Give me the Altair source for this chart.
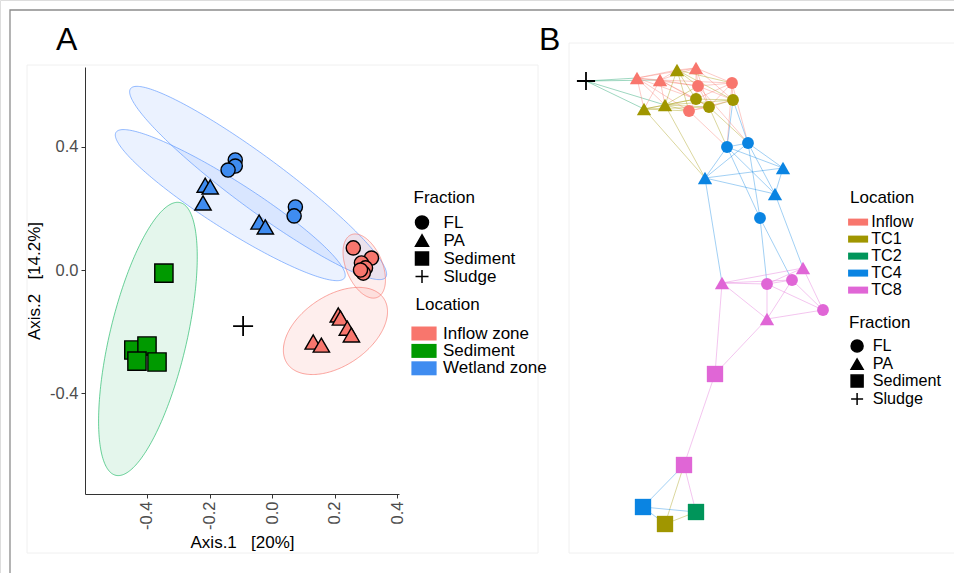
import altair as alt
import numpy as np
import pandas as pd

FONT = "Liberation Sans"

# ---------------- Panel A : PCoA ordination ----------------
a_loc = (["Wetland zone"] * 10 + ["Inflow zone"] * 12 + ["Sediment"] * 5)
a_frac = (["FL"] * 5 + ["PA"] * 5 + ["FL"] * 6 + ["PA"] * 6 + ["Sediment"] * 5)
a_x = [-0.118, -0.118, -0.141, 0.074, 0.070,
       -0.214, -0.198, -0.221, -0.042, -0.022,
       0.259, 0.317, 0.285, 0.298, 0.291, 0.282,
       0.211, 0.218, 0.240, 0.253, 0.131, 0.157,
       -0.346, -0.442, -0.400, -0.432, -0.368]
a_y = [0.358, 0.338, 0.325, 0.205, 0.176,
       0.276, 0.270, 0.218, 0.156, 0.140,
       0.072, 0.039, 0.023, 0.007, -0.010, 0.000,
       -0.146, -0.156, -0.189, -0.211, -0.234, -0.244,
       -0.010, -0.260, -0.247, -0.296, -0.299]
sludge_x = [-0.093]
sludge_y = [-0.182]

# confidence ellipses (centre, semi-axes, rotation in degrees)
ell_id = ["W-FL", "W-PA", "I-FL", "I-PA", "S"]
ell_loc = ["Wetland zone", "Wetland zone", "Inflow zone", "Inflow zone", "Sediment"]
ell_cx = [-0.045, -0.134, 0.294, 0.202, -0.397]
ell_cy = [0.283, 0.211, 0.013, -0.198, -0.224]
ell_a = [0.51, 0.435, 0.11, 0.187, 0.455]
ell_b = [0.084, 0.077, 0.058, 0.113, 0.123]
ell_ang = [-37, -33, -68, 35, 77]

A_LOCS = ["Inflow zone", "Sediment", "Wetland zone"]
A_FILL = ["#F8766D", "#009A00", "#3F8CF0"]
A_ELL = ["#F8766D", "#1DB866", "#5C97FF"]
FRACS = ["FL", "PA", "Sediment", "Sludge"]
PLUS = "M-1,0H1M0,-1V1"
SHAPES = ["circle", "triangle-up", "square", PLUS]

# ---------------- Panel B : network ----------------
n_id = ["SL", "I1", "I2", "I3", "T1a", "T1b", "T1c", "I4", "I5", "I6", "T1d", "T1e", "T1f",
        "C4a", "C4b", "C4c", "C4d", "C4e", "C4f",
        "P1", "P2", "P3", "P4", "P5", "P6", "P7", "P8",
        "C4g", "T1g", "G1"]
n_loc = ["TC2", "Inflow", "Inflow", "Inflow", "TC1", "TC1", "TC1", "Inflow", "Inflow", "Inflow", "TC1", "TC1", "TC1",
         "TC4", "TC4", "TC4", "TC4", "TC4", "TC4",
         "TC8", "TC8", "TC8", "TC8", "TC8", "TC8", "TC8", "TC8",
         "TC4", "TC1", "TC2"]
n_frac = ["Sludge", "PA", "PA", "PA", "PA", "PA", "PA", "FL", "FL", "FL", "FL", "FL", "FL",
          "FL", "FL", "FL", "PA", "PA", "PA",
          "PA", "PA", "PA", "FL", "FL", "FL", "Sediment", "Sediment",
          "Sediment", "Sediment", "Sediment"]
n_x = [0, 51, 74, 110, 91, 58, 79, 112, 146, 103, 110, 123, 147,
       141, 162, 174, 119, 197, 189,
       136, 217, 181, 181, 206, 237, 129, 98,
       57, 79, 110]
n_y = [445, 448, 446, 458, 456, 417, 421, 440, 443, 415, 427, 419, 426,
       379, 383, 308, 348, 358, 332,
       243, 258, 207, 242, 246, 216, 152, 61,
       19, 2, 14]

edges = [
    ("SL", "I1"), ("SL", "I2"), ("SL", "T1b"), ("SL", "T1c"),
    ("I1", "I2"), ("I1", "T1a"), ("I1", "I3"), ("I1", "I4"), ("I1", "T1b"), ("I1", "T1c"), ("I1", "T1d"), ("I1", "I6"),
    ("I2", "T1a"), ("I2", "I3"), ("I2", "I4"), ("I2", "T1c"), ("I2", "T1d"), ("I2", "T1e"), ("I2", "I5"), ("I2", "T1b"),
    ("I3", "T1a"), ("I3", "I4"), ("I3", "I5"), ("I3", "T1d"), ("I3", "T1f"), ("I3", "T1e"),
    ("T1a", "I4"), ("T1a", "I5"), ("T1a", "T1d"), ("T1a", "T1c"), ("T1a", "T1f"), ("T1a", "I6"),
    ("T1b", "T1c"), ("T1b", "T1d"), ("T1b", "I6"), ("T1b", "T1e"),
    ("T1c", "T1d"), ("T1c", "I6"), ("T1c", "T1e"), ("T1c", "I4"), ("T1c", "T1f"),
    ("I4", "I5"), ("I4", "T1d"), ("I4", "T1e"), ("I4", "T1f"),
    ("I5", "T1f"), ("I5", "T1d"), ("I5", "T1e"),
    ("I6", "T1d"), ("I6", "T1e"), ("I6", "T1f"),
    ("T1d", "T1e"), ("T1d", "T1f"), ("T1e", "T1f"),
    ("I5", "C4a"), ("I5", "C4b"), ("C4a", "T1f"), ("C4b", "T1f"), ("I6", "C4a"),
    ("T1e", "C4a"), ("T1e", "C4b"), ("I4", "C4b"), ("T1b", "C4d"), ("T1c", "C4d"),
    ("C4a", "C4b"), ("C4a", "C4d"), ("C4b", "C4d"), ("C4a", "C4e"), ("C4b", "C4e"), ("C4a", "C4f"),
    ("C4b", "C4f"), ("C4d", "C4e"), ("C4d", "C4f"), ("C4e", "C4f"), ("C4a", "C4c"), ("C4b", "C4c"),
    ("C4d", "P1"), ("C4c", "P4"), ("C4c", "P5"), ("C4f", "P2"),
    ("P1", "P4"), ("P1", "P5"), ("P1", "P2"), ("P1", "P3"), ("P1", "P7"), ("P4", "P3"), ("P4", "P6"),
    ("P4", "P5"), ("P5", "P3"), ("P5", "P6"), ("P2", "P6"), ("P3", "P6"), ("P2", "P4"), ("P3", "P7"),
    ("P7", "P8"),
    ("C4g", "P8"), ("T1g", "P8"), ("P8", "G1"), ("C4g", "G1"), ("C4g", "T1g"), ("T1g", "G1"),
]

B_LOCS = ["Inflow", "TC1", "TC2", "TC4", "TC8"]
B_COLS = ["#F8766D", "#A09600", "#00955A", "#0A84E2", "#E066D6"]

# ---------------- tables ----------------
dfA = pd.DataFrame({"x": a_x, "y": a_y, "loc": a_loc, "frac": a_frac})
dfS = pd.DataFrame({"x": sludge_x, "y": sludge_y, "frac": ["Sludge"]})

area_rows, line_rows = [], []
for i in range(len(ell_id)):
    th = np.radians(ell_ang[i])
    c, s = np.cos(th), np.sin(th)
    a, b = ell_a[i], ell_b[i]
    A = c * c / a ** 2 + s * s / b ** 2
    B = 2 * c * s * (1 / a ** 2 - 1 / b ** 2)
    C = s * s / a ** 2 + c * c / b ** 2
    umax = np.sqrt(4 * C / (4 * A * C - B * B))
    u = -umax * np.cos(np.linspace(0, np.pi, 120))
    disc = np.clip(B * B * u * u - 4 * C * (A * u * u - 1), 0, None)
    v1 = (-B * u + np.sqrt(disc)) / (2 * C)
    v2 = (-B * u - np.sqrt(disc)) / (2 * C)
    for k in range(len(u)):
        area_rows.append({"id": ell_id[i], "loc": ell_loc[i], "x": ell_cx[i] + u[k],
                          "y": ell_cy[i] + v1[k], "y2": ell_cy[i] + v2[k]})
    xs = list(ell_cx[i] + u) + list(ell_cx[i] + u[::-1]) + [ell_cx[i] + u[0]]
    ys = list(ell_cy[i] + v1) + list(ell_cy[i] + v2[::-1]) + [ell_cy[i] + v1[0]]
    for k in range(len(xs)):
        line_rows.append({"id": ell_id[i], "loc": ell_loc[i], "x": xs[k], "y": ys[k], "o": k})
dfEA = pd.DataFrame(area_rows)
dfEL = pd.DataFrame(line_rows)

dfN = pd.DataFrame({"id": n_id, "loc": n_loc, "frac": n_frac, "x": n_x, "y": n_y})
pos = {n: (x, y) for n, x, y in zip(n_id, n_x, n_y)}
locd = dict(zip(n_id, n_loc))
dfE = pd.DataFrame([{"x": pos[s][0], "y": pos[s][1], "x2": pos[t][0], "y2": pos[t][1],
                     "grp": locd[s]} for s, t in edges])

# ---------------- scales ----------------
AX = alt.Scale(domain=[-0.598, 0.405], range=[85, 399], nice=False, zero=False)
AY = alt.Scale(domain=[-0.728, 0.66], range=[494, 67], nice=False, zero=False)
BX = alt.Scale(domain=[0, 240], range=[586, 826], nice=False, zero=False)
BY = alt.Scale(domain=[0, 460], range=[526, 66], nice=False, zero=False)
SHAPE = alt.Scale(domain=FRACS, range=SHAPES)
# size scales listed in reverse order so that they are never merged with the shape legend
SIZE_A = alt.Scale(domain=FRACS[::-1], range=[400, 200, 330, 225])
SIZE_B = alt.Scale(domain=FRACS[::-1], range=[330, 140, 290, 165])

LBL = "(datum.value < 0 ? '-' : '') + format(abs(datum.value), '.1f')"
x_axis = alt.Axis(values=[-0.4, -0.2, 0.0, 0.2, 0.4], labelExpr=LBL,
                  labelAngle=270, labelFontSize=16.5, labelColor="#4D4D4D", labelFont=FONT,
                  labelPadding=3, tickColor="#333333", tickSize=4, domainColor="#333333",
                  grid=False, offset=-79,
                  title="Axis.1\u00a0\u00a0\u00a0[20%]", titleFontSize=17, titleFont=FONT,
                  titleFontWeight="normal", titleColor="black", titlePadding=5)
y_axis = alt.Axis(values=[-0.4, 0.0, 0.4], labelExpr=LBL,
                  labelFontSize=16.5, labelColor="#4D4D4D", labelFont=FONT, labelPadding=3,
                  tickColor="#333333", tickSize=4, domainColor="#333333", grid=False, offset=-85,
                  title="Axis.2\u00a0\u00a0\u00a0[14.2%]", titleFontSize=17, titleFont=FONT,
                  titleFontWeight="normal", titleColor="black", titlePadding=6)


def legend(title, lx, ly, **kw):
    base = dict(title=title, orient="none", legendX=lx, legendY=ly, direction="vertical",
                padding=0, titleFontSize=17, titleFont=FONT, titleFontWeight="normal",
                titleColor="black", labelFontSize=17, labelFont=FONT, labelColor="black",
                rowPadding=0)
    base.update(kw)
    return alt.Legend(**base)


RECT_A = "M-1.8,-1H1.8V1H-1.8Z"
RECT_B = "M-1.43,-0.5H1.43V0.5H-1.43Z"

# ---------------- Panel A layers ----------------
ell_area = alt.Chart(dfEA).mark_area(fillOpacity=0.12, interpolate="linear").encode(
    x=alt.X("x:Q", scale=AX, axis=x_axis),
    y=alt.Y("y:Q", scale=AY, axis=y_axis),
    y2="y2:Q",
    color=alt.Color("loc:N", scale=alt.Scale(domain=A_LOCS, range=A_ELL), legend=None),
    detail="id:N",
)
ell_line = alt.Chart(dfEL).mark_line(strokeWidth=1, opacity=0.65).encode(
    x=alt.X("x:Q", scale=AX, axis=None),
    y=alt.Y("y:Q", scale=AY, axis=None),
    color=alt.Color("loc:N", scale=alt.Scale(domain=A_LOCS, range=A_ELL), legend=None),
    detail="id:N",
    order="o:Q",
)
ptsA = alt.Chart(dfA).transform_calculate(fs="datum.frac").mark_point(
    filled=True, stroke="black", strokeWidth=1.4, opacity=1).encode(
    x=alt.X("x:Q", scale=AX, axis=None),
    y=alt.Y("y:Q", scale=AY, axis=None),
    fill=alt.Fill("loc:N", scale=alt.Scale(domain=A_LOCS, range=A_FILL),
                  legend=legend("Location", 415.5, 297, symbolType=RECT_A, symbolSize=196,
                                symbolStrokeWidth=0, labelOffset=10.5, titlePadding=11,
                                rowPadding=-0.6)),
    shape=alt.Shape("frac:N", scale=SHAPE,
                    legend=legend("Fraction", 413.5, 190, symbolSize=169, symbolFillColor="black",
                                  symbolStrokeColor="black", symbolStrokeWidth=1.5,
                                  labelOffset=13, titlePadding=7, rowPadding=-1.9)),
    size=alt.Size("fs:N", scale=SIZE_A, legend=None),
)
sludA = alt.Chart(dfS).mark_point(filled=False, color="black", strokeWidth=1.8, opacity=1,
                                  shape=PLUS, size=400).encode(
    x=alt.X("x:Q", scale=AX, axis=None),
    y=alt.Y("y:Q", scale=AY, axis=None),
)

# ---------------- Panel B layers ----------------
edgeB = alt.Chart(dfE).mark_rule(strokeWidth=1, opacity=0.38).encode(
    x=alt.X("x:Q", scale=BX, axis=None),
    y=alt.Y("y:Q", scale=BY, axis=None),
    x2="x2:Q", y2="y2:Q",
    stroke=alt.Stroke("grp:N", scale=alt.Scale(domain=B_LOCS, range=B_COLS), legend=None),
)
nodeB = alt.Chart(dfN).transform_filter("datum.frac != 'Sludge'").transform_calculate(
    fs="datum.frac").mark_point(filled=True, opacity=1).encode(
    x=alt.X("x:Q", scale=BX, axis=None),
    y=alt.Y("y:Q", scale=BY, axis=None),
    color=alt.Color("loc:N", scale=alt.Scale(domain=B_LOCS, range=B_COLS),
                    legend=legend("Location", 850, 190, symbolType=RECT_B, symbolSize=196,
                                  symbolStrokeWidth=0, labelOffset=5, titlePadding=7,
                                  labelFontSize=16.2, rowPadding=-0.6)),
    shape=alt.Shape("frac:N", scale=SHAPE,
                    legend=legend("Fraction", 849, 315, symbolSize=144, symbolFillColor="black",
                                  symbolStrokeColor="black", symbolStrokeWidth=1.5,
                                  labelOffset=7.5, titlePadding=6, labelFontSize=16.2,
                                  rowPadding=-1.6)),
    size=alt.Size("fs:N", scale=SIZE_B, legend=None),
)
sludB = alt.Chart(dfN).transform_filter("datum.frac == 'Sludge'").mark_point(
    filled=False, color="black", strokeWidth=1.8, opacity=1, shape=PLUS, size=330).encode(
    x=alt.X("x:Q", scale=BX, axis=None),
    y=alt.Y("y:Q", scale=BY, axis=None),
)

# ---------------- decorations ----------------
one = pd.DataFrame({"k": [0]})
frame = alt.Chart(one).mark_rect(filled=False, stroke="#8C8C8C", strokeWidth=1.3).encode(
    x=alt.value(10), y=alt.value(10), x2=alt.value(1000), y2=alt.value(1000))
boxA = alt.Chart(one).mark_rect(filled=False, stroke="#F0F0F0", strokeWidth=1).encode(
    x=alt.value(27), y=alt.value(65), x2=alt.value(538), y2=alt.value(553))
boxB = alt.Chart(one).mark_rect(filled=False, stroke="#F0F0F0", strokeWidth=1).encode(
    x=alt.value(569), y=alt.value(43), x2=alt.value(1000), y2=alt.value(553))
labA = alt.Chart(one).mark_text(fontSize=32, font=FONT, align="left", baseline="alphabetic").encode(
    x=alt.value(56), y=alt.value(50), text=alt.value("A"))
labB = alt.Chart(one).mark_text(fontSize=32, font=FONT, align="left", baseline="alphabetic").encode(
    x=alt.value(539), y=alt.value(50), text=alt.value("B"))

chart = alt.layer(ell_area, frame, boxA, boxB, ell_line, ptsA, sludA,
                  edgeB, nodeB, sludB, labA, labB).resolve_scale(
    x="independent", y="independent", color="independent", fill="independent",
    shape="independent", size="independent", stroke="independent"
).resolve_axis(x="independent", y="independent").resolve_legend(
    color="independent", fill="independent", shape="independent", size="independent",
    stroke="independent"
).properties(
    width=954, height=573, autosize=alt.AutoSizeParams(type="none"), padding=0,
    background="white"
).configure_view(stroke=None).configure(font=FONT)

chart.save("out.html", embed_options={"renderer": "svg", "actions": False})
